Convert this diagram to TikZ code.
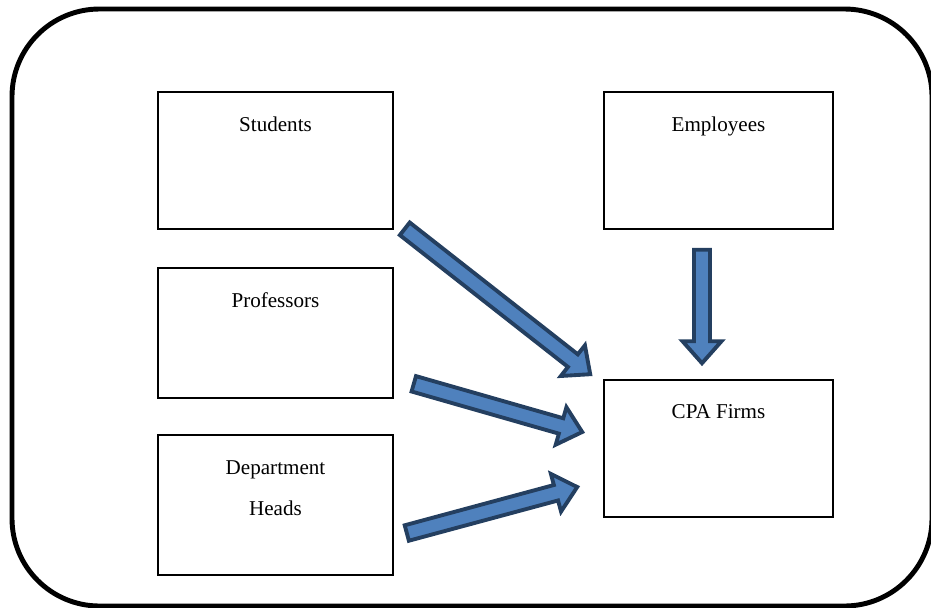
\documentclass[tikz,border=0pt]{standalone}
\usepackage{fontspec}
\setmainfont{Liberation Serif}
\usepackage{tikz}
\usepackage{xcolor}
\usetikzlibrary{positioning,calc}
\definecolor{ink}{HTML}{000000}
\definecolor{arrowfill}{HTML}{4F81BD}
\definecolor{arrowedge}{HTML}{243F60}
\tikzset{
  frame/.style={draw=ink,line width=2.8pt,rounded corners=1.75cm},
  box/.style={draw=ink,fill=white,line width=0.9pt,minimum width=4.70cm,
              minimum height=2.74cm,inner sep=0pt},
  lbl/.style={anchor=base,align=center,inner sep=0pt,
              font=\fontsize{12}{23}\selectfont},
  blockarr/.style={draw=arrowedge,fill=arrowfill,line width=2.2pt,
                   line join=miter}
}
% block arrow from tail #1 to tip #2
\newcommand{\ashaft}{0.16cm}
\newcommand{\ahead}{0.39cm}
\newcommand{\blockarrow}[2]{%
  \coordinate (ahbase) at ($(#2)!0.44cm!(#1)$);
  \path[blockarr] ($(#1)!\ashaft!90:(#2)$) -- ($(ahbase)!\ashaft!-90:(#1)$)
    -- ($(ahbase)!\ahead!-90:(#1)$) -- (#2) -- ($(ahbase)!\ahead!90:(#1)$)
    -- ($(ahbase)!\ashaft!90:(#1)$) -- ($(#1)!\ashaft!-90:(#2)$) -- cycle;}

\begin{document}
\begin{tikzpicture}[x=1cm,y=1cm]
    \useasboundingbox (0,0) rectangle (18.62,-12.14);
    \draw[frame] (0.24,-0.18) rectangle (18.64,-12.12);

    % left column
    \node[box] (students) at (5.51,-3.21) {};
    \node[box,minimum height=2.60cm] (professors) at (5.51,-6.66) {};
    \node[box,minimum height=2.80cm] (depthead) at (5.51,-10.10) {};
    % right column
    \node[box,minimum width=4.58cm] (employees) at (14.37,-3.21) {};
    \node[box,minimum width=4.58cm] (cpa) at (14.37,-8.97) {};

    \node[lbl] (studentslbl) at ([yshift=-0.80cm]students.north) {Students};
    \node[lbl] (professorslbl) at ([yshift=-0.80cm]professors.north) {Professors};
    \node[lbl] (deptheadlbl) at ([yshift=-1.62cm]depthead.north)
      {Department\\Heads};
    \node[lbl] (employeeslbl) at ([yshift=-0.80cm]employees.north) {Employees};
    \node[lbl] (cpalbl) at ([yshift=-0.78cm]cpa.north) {CPA Firms};

    \coordinate (stutail) at ($(students.south east)+(0.22,0.02)$);
    \coordinate (stutip) at ($(cpa.north west)+(-0.26,0.10)$);
    \coordinate (proftail) at ($(professors.south east)+(0.40,0.30)$);
    \coordinate (proftip) at ($(cpa.west)+(-0.42,0.33)$);
    \coordinate (depttail) at ($(depthead.east)+(0.26,-0.56)$);
    \coordinate (depttip) at ($(cpa.west)+(-0.52,-0.77)$);
    \coordinate (emptail) at ($(employees.south)+(-0.33,-0.40)$);
    \coordinate (emptip) at ($(cpa.north)+(-0.33,0.32)$);

    \blockarrow{stutail}{stutip}
    \blockarrow{proftail}{proftip}
    \blockarrow{depttail}{depttip}
    \blockarrow{emptail}{emptip}
  \end{tikzpicture}
\end{document}
